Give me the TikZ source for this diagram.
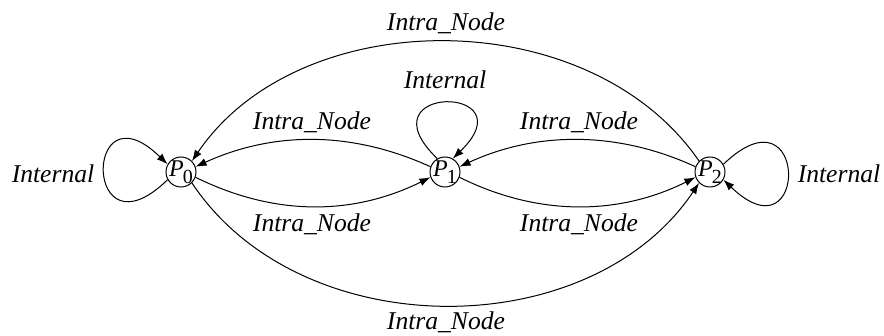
\documentclass[tikz,border=0pt]{standalone}
\usepackage{fontspec}
\setmainfont{Liberation Serif}
\usetikzlibrary{arrows.meta}
\newcommand{\Pnode}[1]{\textit{P}\kern-0.04em\raisebox{-0.3em}{\fontsize{10}{10}\selectfont #1}}
\begin{document}
\begin{tikzpicture}[x=0.5pt,y=-0.5pt,
  state/.style={circle,draw,line width=0.5pt,minimum size=15pt,inner sep=-2pt,font=\fontsize{12}{12}\selectfont},
  lbl/.style={font=\fontsize{12.8}{15}\selectfont\itshape,inner sep=0pt},
  edge/.style={line width=0.5pt,-{Latex[length=5.5pt,width=4pt]}}]
\useasboundingbox (0,0) rectangle (884,336);
\node[state] (P0) at (181,172) {\Pnode{0}};
\node[state] (P1) at (445,172) {\Pnode{1}};
\node[state] (P2) at (710,172) {\Pnode{2}};
% loops
\draw[edge] (P0.210) .. controls (83,262) and (83,82) .. (P0.150);
\draw[edge] (P1.120) .. controls (360,84) and (530,84) .. (P1.60);
\draw[edge] (P2.30) .. controls (809,82) and (809,262) .. (P2.330);
% inner arcs
\draw[edge] (P1.160) .. controls (352,131) and (274,131) .. (P0.20);
\draw[edge] (P0.340) .. controls (274,216) and (352,216) .. (P1.200);
\draw[edge] (P2.160) .. controls (618,131) and (537,131) .. (P1.20);
\draw[edge] (P1.340) .. controls (537,216) and (618,216) .. (P2.200);
% outer arcs
\draw[edge] (P2.135) .. controls (590,2) and (300,2) .. (P0.45);
\draw[edge] (P0.315) .. controls (300,346) and (590,346) .. (P2.225);
% labels
\node[lbl] (li0) at (53,174) {Internal};
\node[lbl] (li1) at (445,80) {Internal};
\node[lbl] (li2) at (839,174) {Internal};
\node[lbl] (lt) at (446,23) {Intra\_Node};
\node[lbl] (lb) at (446,322) {Intra\_Node};
\node[lbl] (lul) at (312,122) {Intra\_Node};
\node[lbl] (lll) at (312,224) {Intra\_Node};
\node[lbl] (lur) at (579,122) {Intra\_Node};
\node[lbl] (llr) at (579,224) {Intra\_Node};
\end{tikzpicture}
\end{document}
